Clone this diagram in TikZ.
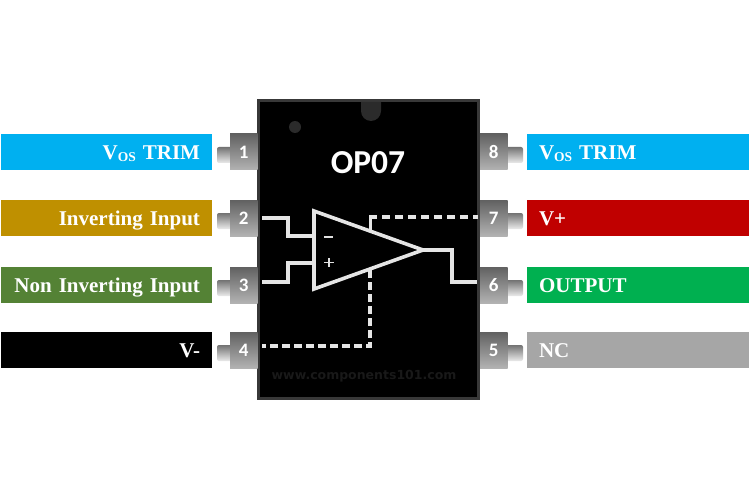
\documentclass[tikz,border=0pt]{standalone}
\usepackage{fontspec}
\setmainfont[WordSpace=0.75]{Liberation Serif}
\newfontfamily\pinfont{Carlito}
\newfontfamily\wmfont{DejaVu Sans}
\usetikzlibrary{calc}
\definecolor{cyanbar}{HTML}{00B0F0}
\definecolor{goldbar}{HTML}{BF9000}
\definecolor{greenbar}{HTML}{548235}
\definecolor{redbar}{HTML}{C00000}
\definecolor{gbar}{HTML}{00B050}
\definecolor{graybar}{HTML}{A6A6A6}
\newcommand{\lbl}[1]{\raisebox{-7.5pt}[0pt][0pt]{#1}}
\tikzset{
  x=1pt,y=-1pt,
  bar/.style={anchor=north west,minimum height=36pt,inner sep=0pt,outer sep=0pt,text=white,
    font=\fontsize{21}{21}\selectfont\bfseries},
  leftbar/.style={bar,minimum width=211pt,text width=187pt,align=right},
  rightbar/.style={bar,minimum width=222pt,text width=198pt,align=left},
  pinbox/.style={anchor=north west,minimum width=27.5pt,minimum height=36pt,inner sep=0pt,outer sep=0pt,
    top color=black!62,bottom color=black!30,text=white,font=\pinfont\fontsize{19}{19}\selectfont\bfseries},
  stubl/.style={rounded corners=2pt,top color=black!55,bottom color=black!8},
  wire/.style={draw=black!10,line width=3.2pt,line join=miter},
  dwire/.style={wire,dash pattern=on 8pt off 4pt},
}
\begin{document}
\begin{tikzpicture}
\path[use as bounding box] (0,0) rectangle (750,500);
\fill[white] (0,0) rectangle (750,500);
% stubs
\foreach \y in {147,213,280,345}{
  \path[stubl] (217,\y) rectangle (232,\y+16);
  \path[stubl] (506,\y) rectangle (523,\y+16);
}
% chip
\node[anchor=north west,minimum width=223pt,minimum height=301pt,inner sep=0pt,outer sep=0pt,fill=black!78] (chip) at (257,99) {};
\fill[black] (260,102) rectangle (477,397);
\fill[black!83] (361,102) -- (361,111) arc[start angle=180,end angle=360,x radius=10,y radius=-10] -- (381,102) -- cycle;
\fill[black!83] (295,127) circle[radius=6];
% pins
\node[pinbox] (p1) at (230,134) {1};
\node[pinbox] (p2) at (230,200) {2};
\node[pinbox] (p3) at (230,267) {3};
\node[pinbox] (p4) at (230,332) {4};
\node[pinbox] (p8) at (480,134) {8};
\node[pinbox] (p7) at (480,200) {7};
\node[pinbox] (p6) at (480,267) {6};
\node[pinbox] (p5) at (480,332) {5};
% bars
\def\vos{\lbl{V\raisebox{-2.5pt}{\fontsize{13.5}{13.5}\selectfont OS} TRIM}}
\node[leftbar,fill=cyanbar] (b1) at (1,134) {\vos};
\node[leftbar,fill=goldbar] (b2) at (1,200) {\lbl{Inverting Input}};
\node[leftbar,fill=greenbar] (b3) at (1,267) {\lbl{Non Inverting Input}};
\node[leftbar,fill=black] (b4) at (1,332) {\lbl{V-}};
\node[rightbar,fill=cyanbar] (b8) at (527,134) {\vos};
\node[rightbar,fill=redbar] (b7) at (527,200) {\lbl{V+}};
\node[rightbar,fill=gbar] (b6) at (527,267) {\lbl{OUTPUT}};
\node[rightbar,fill=graybar] (b5) at (527,332) {\lbl{NC}};
% title and watermark
\node[text=white,font=\pinfont\fontsize{33.5}{33.5}\selectfont\bfseries,inner sep=0pt] (title) at (368,163) {OP07};
\node[text=black!90,font=\wmfont\fontsize{12.5}{12.5}\selectfont\bfseries,inner sep=0pt] (wm) at (364,376) {www.components101.com};
% op-amp
\coordinate (tl) at (314,211);
\coordinate (bl) at (314,289);
\coordinate (apex) at (423,250);
\coordinate (inA) at (262,218);
\coordinate (inB) at (262,282);
\coordinate (outE) at (477,282);
\coordinate (vpTop) at (370,232);
\coordinate (vpEnd) at (478,217);
\coordinate (vpBend) at (369,217);
\coordinate (vmTop) at (370,270);
\coordinate (vmEnd) at (262,346);
\draw[wire] (inA) -- (288,218) -- (288,236) -- (314,236);
\draw[wire] (inB) -- (288,282) -- (288,263) -- (314,263);
\draw[wire] (apex) -- (452,250) -- (452,282) -- (outE);
\draw[dwire,dash pattern=on 8pt off 5pt] (vpBend) -- (vpEnd);
\draw[wire,line width=3pt] (370,216) -- (vpTop);
\draw[dwire,line width=3.8pt] (vmTop) -- (370,346) -- (vmEnd);
\draw[wire,line width=3.6pt] (tl) -- (apex) -- (bl) -- cycle;
\draw[draw=black!10,line width=4.6pt] (tl) -- (bl);
\draw[draw=black!12,line width=1.6pt] (324,237) -- (333,237);
\draw[draw=black!12,line width=1.6pt] (324,262.5) -- (334,262.5) (329,258) -- (329,267);
\end{tikzpicture}
\end{document}
